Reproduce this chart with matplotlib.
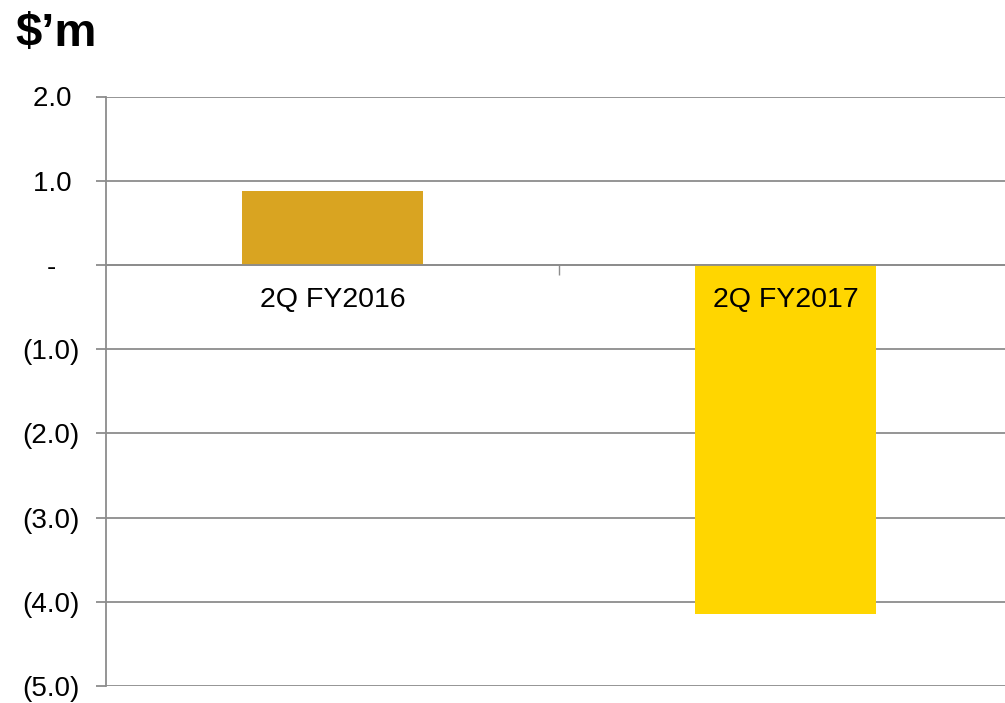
import matplotlib.pyplot as plt

# values in $m
categories = ["2Q FY2016", "2Q FY2017"]
values = [0.88, -4.14]
bar_colors = ["#D9A421", "#FFD600"]

y_ticks = [2, 1, 0, -1, -2, -3, -4, -5]
y_labels = ["2.0 ", "1.0 ", "-   ", "(1.0)", "(2.0)", "(3.0)", "(4.0)", "(5.0)"]

plt.rcParams['font.family'] = ['Liberation Sans', 'DejaVu Sans']

fig = plt.figure(figsize=(10.05, 7.03), dpi=100)
ax = fig.add_axes([106 / 1005, 1 - 686 / 703, 906 / 1005, 589.5 / 703])

x = list(range(len(categories)))
ax.bar(x, values, width=0.40, color=bar_colors, zorder=2)

ax.set_xlim(-0.5, len(categories) - 0.5)
ax.set_ylim(-5, 2)

grid_col = "#8c8c8c"
ax.set_yticks(y_ticks)
ax.set_yticklabels(y_labels)
ax.yaxis.grid(True, color=grid_col, linewidth=1.3, zorder=0)
ax.set_axisbelow(True)
ax.tick_params(axis='y', length=7, width=1.3, color=grid_col, pad=12, labelsize=20)

# category axis sits on the zero line, labels drawn over the bars
ax.spines['bottom'].set_position(('data', 0))
ax.spines['bottom'].set_color(grid_col)
ax.spines['bottom'].set_linewidth(1.3)
ax.spines['bottom'].set_zorder(3)
ax.set_xticks(x)
ax.set_xticklabels(categories)
ax.set_xticks([0.5], minor=True)
ax.tick_params(axis='x', which='major', length=0, pad=16, labelsize=20.5)
ax.tick_params(axis='x', which='minor', length=7, width=1.0, color=grid_col, direction='out')
ax.xaxis.set_zorder(4)

ax.spines['left'].set_color(grid_col)
ax.spines['left'].set_linewidth(1.3)
ax.spines['top'].set_visible(False)
ax.spines['right'].set_visible(False)

fig.text(15 / 1005, 1 - 46 / 703, "$\u2019m", fontsize=34, fontweight='bold',
         ha='left', va='baseline')

plt.savefig("out.png", dpi=100)
